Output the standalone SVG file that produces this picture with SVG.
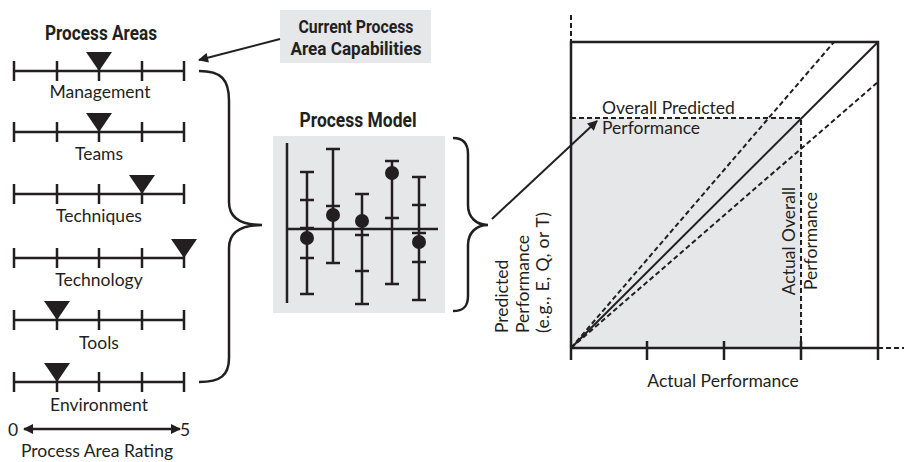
<svg xmlns="http://www.w3.org/2000/svg" width="904" height="462" viewBox="0 0 904 462">
<style>
.ln{stroke:#231f20;stroke-width:2.5;fill:none}
.thin{stroke:#231f20;stroke-width:2;fill:none}
.dash{stroke:#231f20;stroke-width:2;fill:none;stroke-dasharray:5 3}
.tri{fill:#231f20}
.t{font-family:Lato,"Open Sans",sans-serif;font-size:17.5px;fill:#231f20}
.tl{font-family:Lato,"Open Sans",sans-serif;font-size:17.5px;fill:#231f20}
.b{font-family:Roboto,"Liberation Sans",sans-serif;font-weight:bold;fill:#231f20}
.box{fill:#e6e7e8}
</style>
<defs>
<marker id="ah" viewBox="0 0 10 10" refX="9" refY="5" markerWidth="11" markerHeight="10" markerUnits="userSpaceOnUse" orient="auto-start-reverse">
<path d="M0,0 L10,5 L0,10 z" fill="#231f20"/>
</marker>
<g id="scale">
<line x1="14" y1="0" x2="184" y2="0" class="ln"/>
<line x1="14" y1="-10" x2="14" y2="10" class="ln"/>
<line x1="57" y1="-10" x2="57" y2="10" class="ln"/>
<line x1="99" y1="-10" x2="99" y2="10" class="ln"/>
<line x1="142" y1="-10" x2="142" y2="10" class="ln"/>
<line x1="184" y1="-10" x2="184" y2="10" class="ln"/>
</g>
<path id="tri" d="M-13,-19 L13,-19 L0,0 z"/>
</defs>

<g id="process-areas">
<text x="101" y="40" class="b" font-size="20" text-anchor="middle" textLength="112" lengthAdjust="spacingAndGlyphs">Process Areas</text>
</g>

<g id="management">
<use href="#scale" y="71"/>
<use href="#tri" x="99" y="71" class="tri"/>
<text x="100" y="98" class="t" text-anchor="middle">Management</text>
</g>
<g id="teams">
<use href="#scale" y="132"/>
<use href="#tri" x="99" y="132" class="tri"/>
<text x="99" y="160" class="t" text-anchor="middle">Teams</text>
</g>
<g id="techniques">
<use href="#scale" y="194"/>
<use href="#tri" x="142" y="194" class="tri"/>
<text x="99" y="222" class="t" text-anchor="middle">Techniques</text>
</g>
<g id="technology">
<use href="#scale" y="258"/>
<use href="#tri" x="184" y="258" class="tri"/>
<text x="99" y="286" class="t" text-anchor="middle">Technology</text>
</g>
<g id="tools">
<use href="#scale" y="320"/>
<use href="#tri" x="57" y="320" class="tri"/>
<text x="99" y="349" class="t" text-anchor="middle">Tools</text>
</g>
<g id="environment">
<use href="#scale" y="382"/>
<use href="#tri" x="57" y="382" class="tri"/>
<text x="99" y="411" class="t" text-anchor="middle">Environment</text>
</g>

<g id="rating-legend">
<text x="8" y="436" class="t">0</text>
<line x1="24" y1="429" x2="180" y2="429" class="ln" marker-start="url(#ah)" marker-end="url(#ah)"/>
<text x="180" y="436" class="t">5</text>
<text x="97" y="457" class="t" text-anchor="middle">Process Area Rating</text>
</g>

<g id="current-capabilities">
<rect x="280" y="10" width="151" height="53" class="box"/>
<text x="356" y="33" class="b" font-size="18" text-anchor="middle" textLength="115" lengthAdjust="spacingAndGlyphs">Current Process</text>
<text x="356" y="55" class="b" font-size="18" text-anchor="middle" textLength="131" lengthAdjust="spacingAndGlyphs">Area Capabilities</text>
</g>

<g id="process-model">
<text x="358" y="127" class="b" font-size="20" text-anchor="middle" textLength="117" lengthAdjust="spacingAndGlyphs">Process Model</text>
<rect x="273" y="136" width="172" height="177" class="box"/>
<line x1="287" y1="143" x2="287" y2="303" class="ln"/>
<line x1="287" y1="229" x2="438" y2="229" class="ln"/>
<g class="ln">
<path d="M307,172 V294 M300,172 H314 M300,294 H314 M300,200 H314 M300,258 H314 M300,228 H314"/>
<path d="M333,149 V263 M326,149 H340 M326,263 H340 M326,206 H340"/>
<path d="M362,194 V304 M355,194 H369 M355,304 H369 M355,235 H369 M355,271 H369"/>
<path d="M392,161 V284 M385,161 H399 M385,284 H399 M385,218 H399"/>
<path d="M419,177 V300 M412,177 H426 M412,300 H426 M412,205 H426 M412,262 H426 M412,233 H426"/>
</g>
<g class="tri">
<circle cx="307" cy="238" r="7"/>
<circle cx="333" cy="215" r="7"/>
<circle cx="362" cy="221" r="7"/>
<circle cx="392" cy="173" r="7"/>
<circle cx="419" cy="242" r="7"/>
</g>
</g>

<g id="chart">
<rect x="571" y="118" width="230" height="230" class="box"/>
<line x1="571" y1="15" x2="571" y2="42" class="dash"/>
<line x1="878" y1="348" x2="904" y2="348" class="dash"/>
<path d="M571,118 H801 V348" class="dash"/>
<line x1="571" y1="348" x2="834" y2="42" class="dash"/>
<line x1="571" y1="348" x2="878" y2="82" class="dash"/>
<line x1="571" y1="348" x2="878" y2="42" class="thin"/>
<path d="M571,360 V42 H878 V360 M571,348 H878" class="ln"/>
<path d="M647,341 V360 M724,341 V360 M801,341 V360" class="ln"/>
<text x="602" y="114" class="tl">Overall Predicted</text>
<text x="602" y="134" class="tl">Performance</text>
<text x="723" y="387" class="tl" text-anchor="middle">Actual Performance</text>
<text transform="translate(795,241) rotate(-90)" class="tl" text-anchor="middle">Actual Overall</text>
<text transform="translate(817,241) rotate(-90)" class="tl" text-anchor="middle">Performance</text>
<text transform="translate(508,333) rotate(-90)" class="tl">Predicted</text>
<text transform="translate(529,333) rotate(-90)" class="tl">Performance</text>
<text transform="translate(549,333) rotate(-90)" class="tl" textLength="121">(e.g., E, Q, or T)</text>
</g>

<g id="connectors">
<line x1="280" y1="39" x2="199" y2="60" class="thin" marker-end="url(#ah)"/>
<path d="M199,71 C221,71 229,79 229,101 L229,202 C229,217 240,225 262,225 C240,225 229,233 229,248 L229,358 C229,375 221,382 199,382" class="ln" stroke-width="3"/>
<path d="M453,138 C464,138 468,144 468,154 L468,205 C468,217 476,225 488,225 C476,225 468,233 468,245 L468,296 C468,306 464,311 453,311" class="ln" stroke-width="3"/>
<line x1="492" y1="219" x2="597" y2="121" class="thin" marker-end="url(#ah)"/>
</g>
</svg>
